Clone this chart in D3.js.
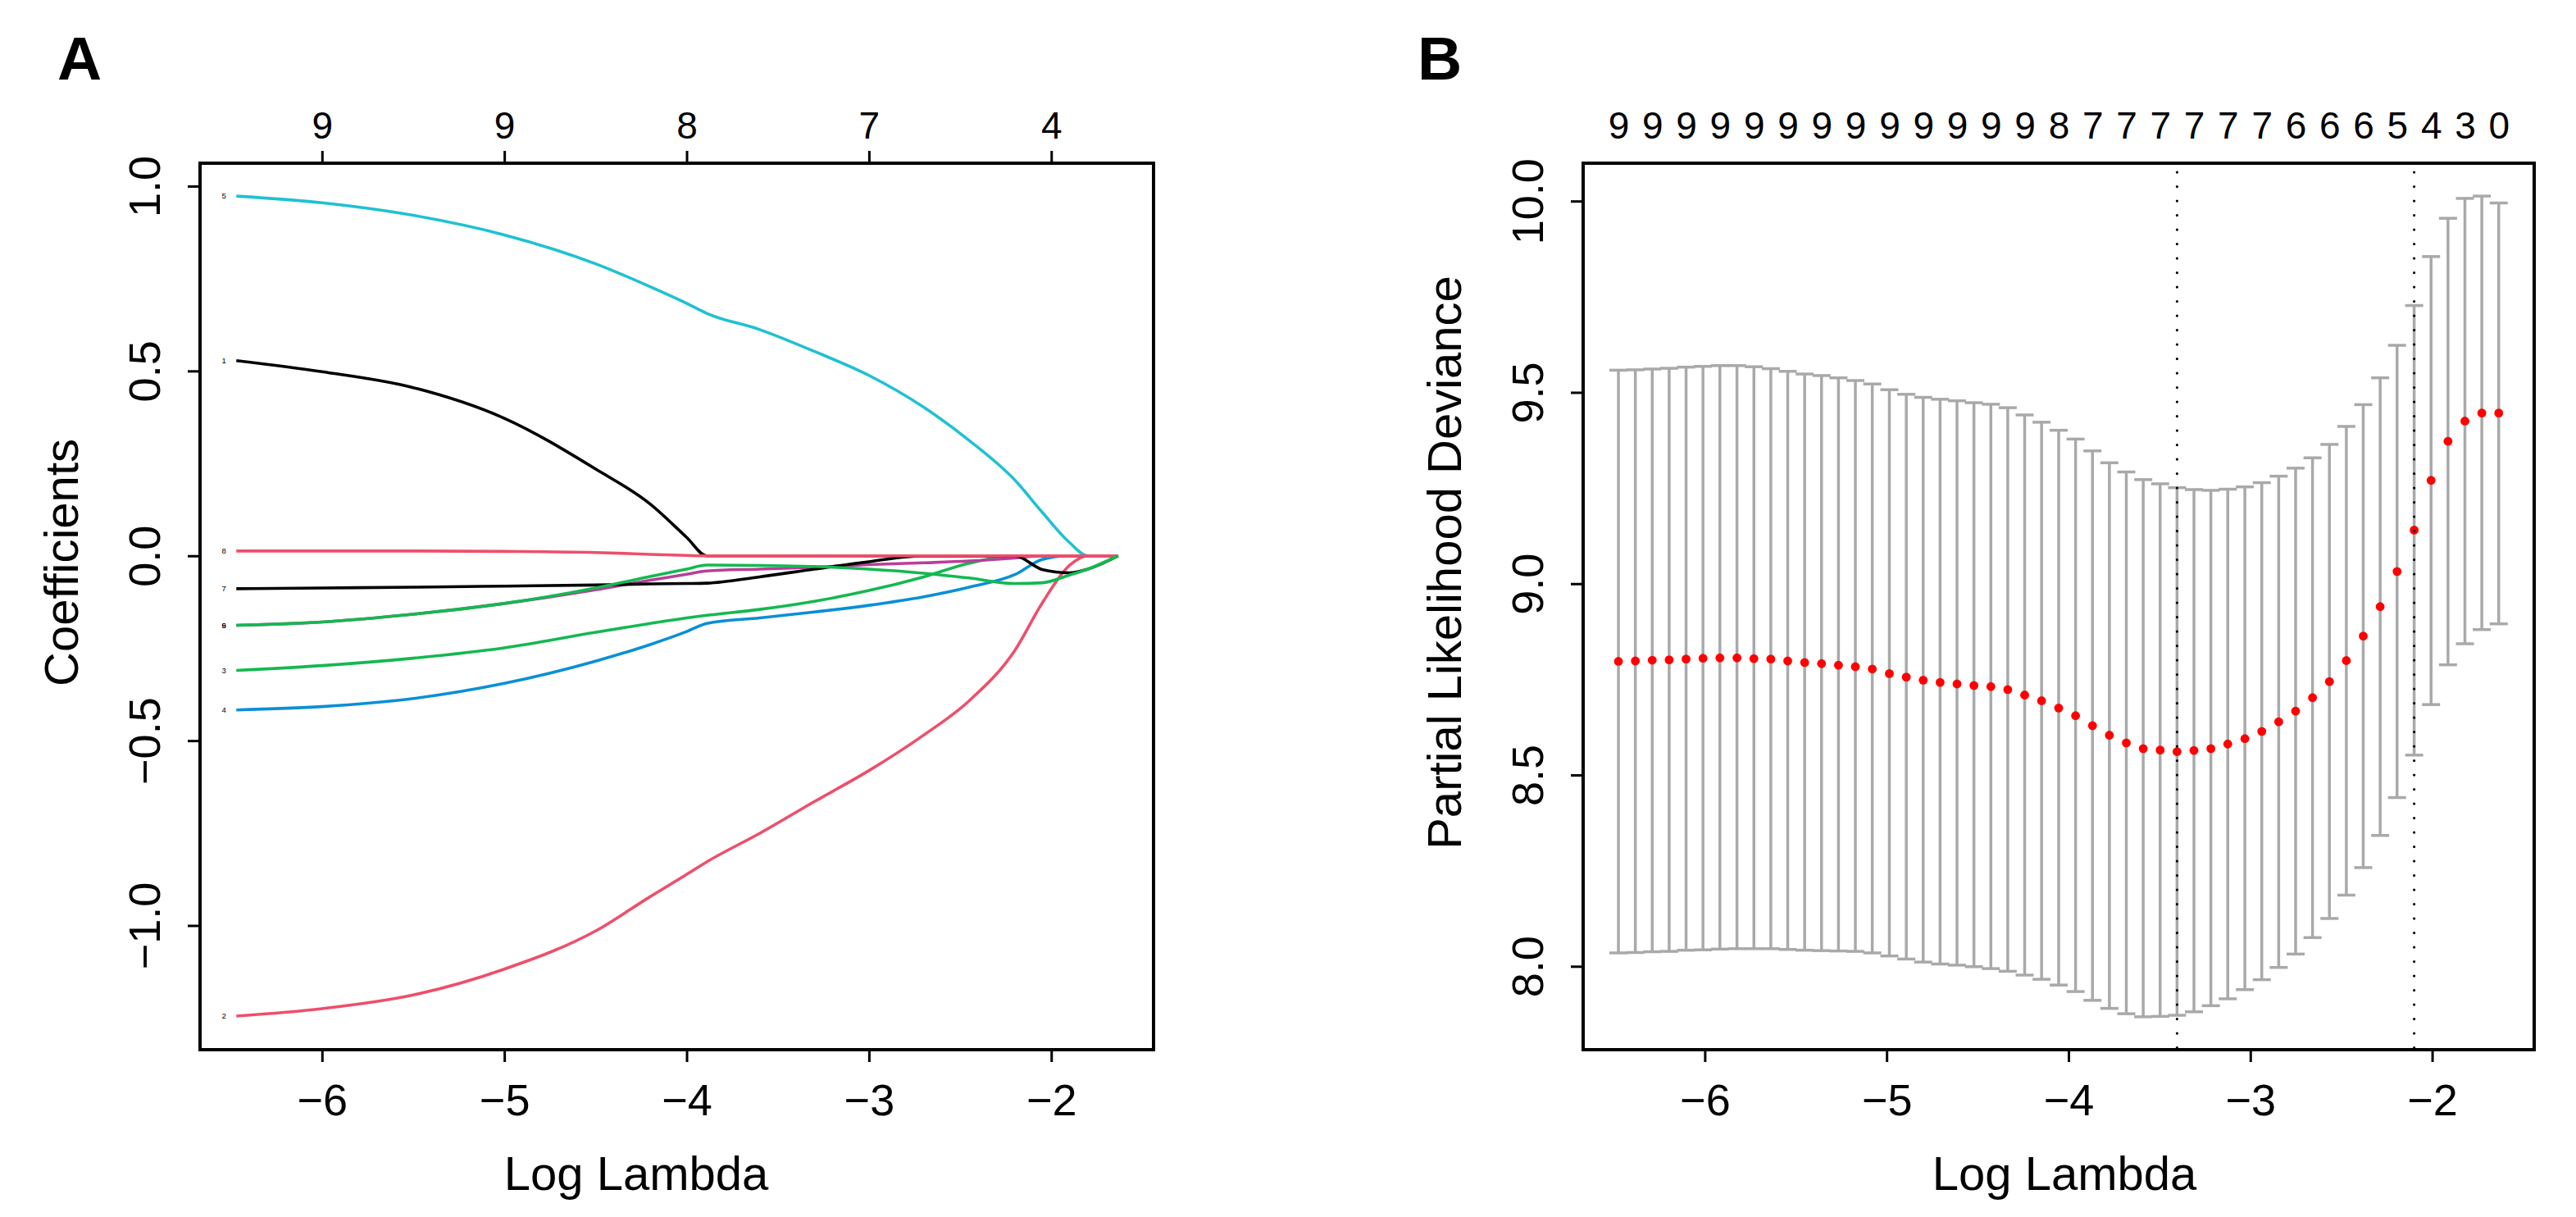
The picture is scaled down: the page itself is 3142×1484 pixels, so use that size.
<!DOCTYPE html>
<html>
<head>
<meta charset="utf-8">
<script src="https://cdn.jsdelivr.net/npm/d3@7"></script>
<style>
  body { margin: 0; background: #fff; }
  text { font-family: "Liberation Sans", Arial, Helvetica, sans-serif; }
</style>
</head>
<body>
<script>
// ---- Panel A: coefficient paths ----
var pathLogLambda = [-6.47, -6.0, -5.5, -5.0, -4.5, -4.2, -4.0, -3.89, -3.6, -3.3, -3.0, -2.7, -2.45, -2.2, -2.05, -1.9, -1.8, -1.633];
var coef1 = [0.528, 0.498, 0.455, 0.372, 0.235, 0.140, 0.050, 0, 0, 0, 0, 0, 0, 0, 0, 0, 0, 0];
var coef2 = [-1.245, -1.225, -1.188, -1.118, -1.015, -0.922, -0.862, -0.828, -0.751, -0.665, -0.581, -0.485, -0.392, -0.256, -0.128, -0.026, 0, 0];
var coef3 = [-0.310, -0.297, -0.277, -0.249, -0.207, -0.183, -0.168, -0.161, -0.145, -0.123, -0.094, -0.057, -0.020, 0, 0, 0, 0, 0];
var coef4 = [-0.417, -0.408, -0.386, -0.345, -0.285, -0.240, -0.205, -0.183, -0.168, -0.152, -0.134, -0.111, -0.085, -0.051, -0.010, 0, 0, 0];
var coef5 = [0.973, 0.955, 0.921, 0.868, 0.790, 0.728, 0.683, 0.656, 0.612, 0.553, 0.488, 0.402, 0.312, 0.205, 0.118, 0.036, 0, 0];
var coef6 = [-0.188, -0.179, -0.158, -0.129, -0.092, -0.066, -0.050, -0.041, -0.036, -0.031, -0.024, -0.019, -0.014, -0.006, 0, 0, 0, 0];
var coef7 = [-0.089, -0.087, -0.085, -0.082, -0.079, -0.076, -0.075, -0.074, -0.057, -0.036, -0.016, 0, 0, 0, -0.037, -0.046, -0.036, 0];
var coef8 = [0.013, 0.013, 0.013, 0.012, 0.009, 0.004, 0.001, 0, 0, 0, 0, 0, 0, 0, 0, 0, 0, 0];
var coef9 = [-0.188, -0.179, -0.158, -0.129, -0.087, -0.056, -0.036, -0.025, -0.026, -0.029, -0.036, -0.047, -0.060, -0.075, -0.073, -0.052, -0.036, 0];
var coefNames = ["1", "2", "3", "4", "5", "6", "7", "8", "9"];
var coefColors = ["#000000", "#EE4F6B", "#14B850", "#0A8FD6", "#1FC1D2", "#B93E9A", "#000000", "#EE4F6B", "#14B850"];
var coefTopTicks = [-6, -5, -4, -3, -2];
var coefTopLabels = ["9", "9", "8", "7", "4"];

// ---- Panel B: cross-validation curve ----
var logLambda = [-6.475, -6.382, -6.289, -6.196, -6.103, -6.010, -5.917, -5.823, -5.730, -5.637,
  -5.544, -5.451, -5.358, -5.265, -5.172, -5.079, -4.985, -4.892, -4.799, -4.706,
  -4.613, -4.520, -4.427, -4.334, -4.241, -4.148, -4.054, -3.961, -3.868, -3.775,
  -3.682, -3.589, -3.496, -3.403, -3.310, -3.217, -3.124, -3.030, -2.937, -2.844,
  -2.751, -2.658, -2.565, -2.472, -2.379, -2.286, -2.193, -2.099, -2.006, -1.913,
  -1.820, -1.727, -1.634];
var cvMean = [8.797, 8.798, 8.800, 8.801, 8.803, 8.805, 8.806, 8.806, 8.804, 8.803,
  8.798, 8.794, 8.791, 8.787, 8.783, 8.777, 8.765, 8.756, 8.748, 8.742,
  8.738, 8.734, 8.731, 8.723, 8.709, 8.694, 8.675, 8.655, 8.629, 8.604,
  8.584, 8.569, 8.565, 8.561, 8.564, 8.569, 8.581, 8.595, 8.614, 8.639,
  8.667, 8.702, 8.744, 8.799, 8.863, 8.940, 9.032, 9.140, 9.270, 9.372,
  9.425, 9.446, 9.446];
var cvUpper = [9.558, 9.559, 9.561, 9.563, 9.566, 9.568, 9.570, 9.570, 9.567, 9.562,
  9.555, 9.548, 9.544, 9.538, 9.531, 9.522, 9.507, 9.495, 9.487, 9.482,
  9.478, 9.473, 9.469, 9.460, 9.441, 9.422, 9.401, 9.378, 9.347, 9.316,
  9.292, 9.272, 9.261, 9.251, 9.246, 9.244, 9.247, 9.253, 9.264, 9.281,
  9.302, 9.329, 9.364, 9.411, 9.468, 9.538, 9.623, 9.727, 9.855, 9.955,
  10.007, 10.013, 9.995];
var cvLower = [8.035, 8.036, 8.038, 8.039, 8.042, 8.043, 8.045, 8.046, 8.046, 8.046,
  8.044, 8.042, 8.041, 8.040, 8.039, 8.035, 8.027, 8.019, 8.011, 8.006,
  8.003, 7.999, 7.994, 7.987, 7.977, 7.966, 7.951, 7.934, 7.911, 7.890,
  7.876, 7.868, 7.869, 7.872, 7.881, 7.897, 7.915, 7.939, 7.965, 7.997,
  8.032, 8.075, 8.125, 8.186, 8.258, 8.342, 8.441, 8.552, 8.684, 8.788,
  8.843, 8.880, 8.895];
// non-zero counts shown on the top axis (every second lambda)
var nzeroLabels = ["9", "9", "9", "9", "9", "9", "9", "9", "9", "9", "9", "9", "9",
  "8", "7", "7", "7", "7", "7", "7", "6", "6", "6", "5", "4", "3", "0"];
var lambdaMinLog = -3.403;
var lambda1seLog = -2.099;

var FONT = '"Liberation Sans", Arial, Helvetica, sans-serif';

var svg = d3.select("body").append("svg")
  .attr("width", 3142)
  .attr("height", 1484);

// common styling for R-like axes
function styleAxis(g, size) {
  g.attr("font-size", size).attr("font-family", FONT);
  g.select(".domain").remove();
  g.selectAll(".tick line").attr("stroke", "#000").attr("stroke-width", 3);
  g.selectAll(".tick text").attr("fill", "#000");
}

function bottomAxis(x, bottom) {
  var g = svg.append("g")
    .attr("transform", "translate(0," + bottom + ")")
    .call(d3.axisBottom(x).tickValues([-6, -5, -4, -3, -2]).tickFormat(d3.format("d")).tickSize(15));
  styleAxis(g, 54);
  g.selectAll(".tick text").attr("y", 80).attr("dy", 0);
}

function leftAxis(y, left, ticks) {
  var g = svg.append("g")
    .attr("transform", "translate(" + left + ",0)")
    .call(d3.axisLeft(y).tickValues(ticks).tickFormat(d3.format(".1f")).tickSize(15));
  styleAxis(g, 54);
  g.selectAll(".tick text")
    .attr("transform", "rotate(-90)")
    .attr("x", 0).attr("y", -49).attr("dy", 0)
    .attr("text-anchor", "middle");
}

// ================= Panel A =================
var boxA = {left: 244, right: 1407, top: 199, bottom: 1280};
var xA = d3.scaleLinear().domain([-6.669, -1.439]).range([boxA.left, boxA.right]);
var yA = d3.scaleLinear().domain([-1.336, 1.062]).range([boxA.bottom, boxA.top]);

var coefSeries = [coef1, coef2, coef3, coef4, coef5, coef6, coef7, coef8, coef9];

var lineA = d3.line()
  .x(function(d, i) { return xA(pathLogLambda[i]); })
  .y(function(d) { return yA(d); })
  .curve(d3.curveMonotoneX);

svg.append("g").selectAll("path")
  .data(coefSeries)
  .enter().append("path")
  .attr("d", lineA)
  .attr("fill", "none")
  .attr("stroke", function(d, i) { return coefColors[i]; })
  .attr("stroke-width", 3.6)
  .attr("stroke-linejoin", "round");

// variable numbers at the left end of each path
svg.append("g").selectAll("text")
  .data(coefSeries)
  .enter().append("text")
  .attr("x", xA(pathLogLambda[0]) - 15)
  .attr("y", function(d) { return yA(d[0]); })
  .attr("dy", "0.35em")
  .attr("text-anchor", "middle")
  .attr("font-size", 9.5)
  .text(function(d, i) { return coefNames[i]; });

bottomAxis(xA, boxA.bottom);
leftAxis(yA, boxA.left, [-1, -0.5, 0, 0.5, 1]);

var topA = svg.append("g")
  .attr("transform", "translate(0," + boxA.top + ")")
  .call(d3.axisTop(xA).tickValues(coefTopTicks)
    .tickFormat(function(d, i) { return coefTopLabels[i]; }).tickSize(15));
styleAxis(topA, 46);
topA.selectAll(".tick text").attr("y", -30).attr("dy", 0);

svg.append("rect")
  .attr("x", boxA.left).attr("y", boxA.top)
  .attr("width", boxA.right - boxA.left).attr("height", boxA.bottom - boxA.top)
  .attr("fill", "none").attr("stroke", "#000").attr("stroke-width", 4);

svg.append("text")
  .attr("x", 776).attr("y", 1451)
  .attr("text-anchor", "middle").attr("font-size", 58)
  .text("Log Lambda");
svg.append("text")
  .attr("transform", "translate(95,686) rotate(-90)")
  .attr("text-anchor", "middle").attr("font-size", 58)
  .text("Coefficients");
svg.append("text")
  .attr("x", 70).attr("y", 97)
  .attr("font-size", 75).attr("font-weight", "bold")
  .text("A");

// ================= Panel B =================
var boxB = {left: 1931, right: 3091, top: 199, bottom: 1280};
var xB = d3.scaleLinear().domain([-6.669, -1.439]).range([boxB.left, boxB.right]);
var yB = d3.scaleLinear().domain([7.782, 10.099]).range([boxB.bottom, boxB.top]);

var cvRows = logLambda.map(function(l, i) {
  return {l: l, m: cvMean[i], up: cvUpper[i], lo: cvLower[i]};
});

var bars = svg.append("g")
  .attr("stroke", "#A9A9A9")
  .attr("stroke-width", 3.5)
  .selectAll("g").data(cvRows).enter().append("g");
bars.append("line")
  .attr("x1", function(d) { return xB(d.l); }).attr("x2", function(d) { return xB(d.l); })
  .attr("y1", function(d) { return yB(d.up); }).attr("y2", function(d) { return yB(d.lo); });
bars.append("line")
  .attr("x1", function(d) { return xB(d.l) - 11; }).attr("x2", function(d) { return xB(d.l) + 11; })
  .attr("y1", function(d) { return yB(d.up); }).attr("y2", function(d) { return yB(d.up); });
bars.append("line")
  .attr("x1", function(d) { return xB(d.l) - 11; }).attr("x2", function(d) { return xB(d.l) + 11; })
  .attr("y1", function(d) { return yB(d.lo); }).attr("y2", function(d) { return yB(d.lo); });

svg.append("g").selectAll("circle")
  .data(cvRows).enter().append("circle")
  .attr("cx", function(d) { return xB(d.l); })
  .attr("cy", function(d) { return yB(d.m); })
  .attr("r", 5.4)
  .attr("fill", "#FF0000");

svg.append("g").selectAll("line")
  .data([lambdaMinLog, lambda1seLog]).enter().append("line")
  .attr("x1", function(d) { return xB(d); }).attr("x2", function(d) { return xB(d); })
  .attr("y1", boxB.top + 11).attr("y2", boxB.bottom)
  .attr("stroke", "#000").attr("stroke-width", 3.2)
  .attr("stroke-linecap", "round")
  .attr("stroke-dasharray", "0.1 17.4");

bottomAxis(xB, boxB.bottom);
leftAxis(yB, boxB.left, [8, 8.5, 9, 9.5, 10]);

var topVals = logLambda.filter(function(d, i) { return i % 2 === 0; });
var topB = svg.append("g")
  .attr("transform", "translate(0," + boxB.top + ")")
  .call(d3.axisTop(xB).tickValues(topVals)
    .tickFormat(function(d, i) { return nzeroLabels[i]; }).tickSize(0));
styleAxis(topB, 46);
topB.selectAll(".tick text").attr("y", -30).attr("dy", 0);

svg.append("rect")
  .attr("x", boxB.left).attr("y", boxB.top)
  .attr("width", boxB.right - boxB.left).attr("height", boxB.bottom - boxB.top)
  .attr("fill", "none").attr("stroke", "#000").attr("stroke-width", 4);

svg.append("text")
  .attr("x", 2518).attr("y", 1451)
  .attr("text-anchor", "middle").attr("font-size", 58)
  .text("Log Lambda");
svg.append("text")
  .attr("transform", "translate(1782,686) rotate(-90)")
  .attr("text-anchor", "middle").attr("font-size", 58)
  .text("Partial Likelihood Deviance");
svg.append("text")
  .attr("x", 1729).attr("y", 97)
  .attr("font-size", 75).attr("font-weight", "bold")
  .text("B");
</script>
</body>
</html>
